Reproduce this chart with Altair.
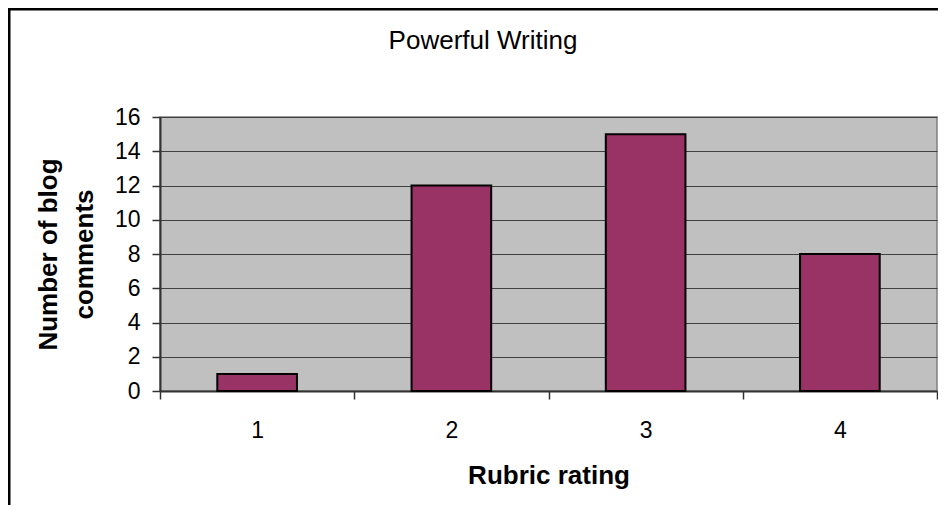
import altair as alt
import pandas as pd

# ---- data ----
ratings = ["1", "2", "3", "4"]
counts = [1, 12, 15, 8]
y_ticks = [0, 2, 4, 6, 8, 10, 12, 14, 16]
chart_title = "Powerful Writing"
x_title = "Rubric rating"
y_title = ["Number of blog", "comments"]

FONT = "Liberation Sans"
W, H = 777, 274

df = pd.DataFrame({"rating": ratings, "count": counts})

bars = alt.Chart(df).mark_bar(
    width=alt.RelativeBandSize(0.41),
    color="#993366",
    stroke="black",
    strokeWidth=2,
).encode(
    x=alt.X(
        "rating:N",
        sort=ratings,
        scale=alt.Scale(paddingInner=0, paddingOuter=0),
        axis=alt.Axis(
            labelAngle=0,
            tickBand="extent",
            tickSize=8,
            tickColor="#333333",
            tickWidth=1.5,
            domainColor="#333333",
            domainWidth=2,
            grid=False,
            labelFont=FONT,
            labelFontSize=23,
            labelColor="black",
            labelBaseline="alphabetic",
            labelPadding=38,
            title=x_title,
            titleFont=FONT,
            titleFontSize=26,
            titleFontWeight="bold",
            titleColor="black",
            titleX=W / 2,
            titleY=92,
            titleAlign="center",
            titleBaseline="alphabetic",
        ),
    ),
    y=alt.Y(
        "count:Q",
        scale=alt.Scale(domain=[0, 16], nice=False),
        axis=alt.Axis(
            values=y_ticks,
            tickSize=8,
            tickColor="#333333",
            tickWidth=1.5,
            domainColor="#333333",
            domainWidth=2,
            grid=True,
            gridColor="#404040",
            gridWidth=1,
            labelFont=FONT,
            labelFontSize=23,
            labelColor="black",
            labelPadding=12,
            title=y_title,
            titleFont=FONT,
            titleFontSize=26,
            titleFontWeight="bold",
            titleColor="black",
            titleAngle=270,
            titleX=-104,
            titleY=H / 2,
            titleAlign="center",
            titleBaseline="alphabetic",
            titleLineHeight=36,
        ),
    ),
)

one = alt.Data(values=[{"k": 0}])

title_mark = alt.Chart(one).mark_text(
    font=FONT, fontSize=26, color="black", align="center", baseline="alphabetic"
).encode(
    x=alt.value(323), y=alt.value(-68), text=alt.value(chart_title)
)

top_border = alt.Chart(one).mark_rule(color="black", strokeWidth=2.5).encode(
    x=alt.value(-152), x2=alt.value(W + 1), y=alt.value(-107.75)
)
left_border = alt.Chart(one).mark_rule(color="black", strokeWidth=2.5).encode(
    x=alt.value(-150.75), y=alt.value(-107.75), y2=alt.value(H + 114)
)

chart = alt.layer(bars, title_mark, top_border, left_border).properties(
    width=W,
    height=H,
    autosize=alt.AutoSizeParams(type="none"),
    padding={"left": 152, "top": 109, "right": 1, "bottom": 114},
    background="white",
).configure_view(
    fill="#C0C0C0",
    stroke="#808080",
    strokeWidth=1.5,
)

chart.save("out.html", embed_options={"renderer": "svg", "actions": False})
